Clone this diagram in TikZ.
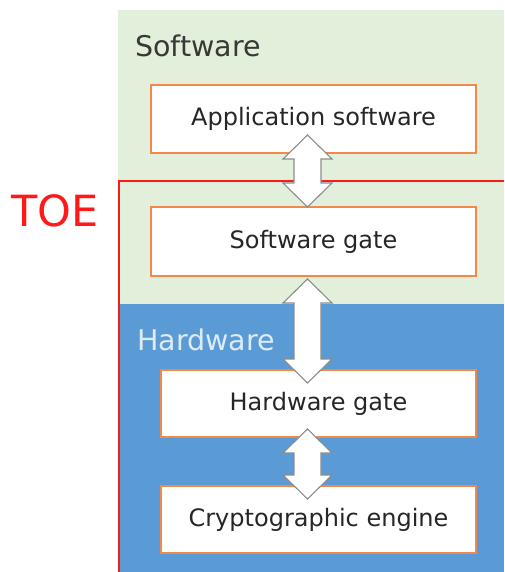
\documentclass[tikz,border=0pt]{standalone}
\usepackage{fontspec}
\setmainfont{DejaVu Sans}
\usetikzlibrary{calc}
\definecolor{swgreen}{HTML}{E2EFDA}
\definecolor{hwblue}{HTML}{5B9BD5}
\definecolor{boxorange}{HTML}{F0894A}
\definecolor{arrowgray}{HTML}{8C8C8C}
\definecolor{toered}{HTML}{FF1A1A}
\definecolor{txt}{HTML}{262626}
\definecolor{hwtext}{HTML}{DDEBF7}
\newcommand{\dblblockarrow}[2]{%
  \filldraw[blockarrow] (#1) -- ($(#1)+(24.5,24)$) -- ($(#1)+(13.5,24)$)
    -- ($(#2)+(13.5,-24)$) -- ($(#2)+(24.5,-24)$) -- (#2)
    -- ($(#2)+(-24.5,-24)$) -- ($(#2)+(-13.5,-24)$)
    -- ($(#1)+(-13.5,24)$) -- ($(#1)+(-24.5,24)$) -- cycle;}
\begin{document}
\begin{tikzpicture}[x=1pt,y=-1pt,
  layerbox/.style={draw=boxorange, line width=1.6pt, fill=white, text=txt,
    inner sep=0pt, font=\fontsize{24}{28}\selectfont},
  blockarrow/.style={draw=arrowgray, line width=1.1pt, fill=white, line join=miter},
  layerlabel/.style={anchor=base west, inner sep=0pt, font=\fontsize{28.5}{32}\selectfont}]
\useasboundingbox (0,0) rectangle (504,572);
% backgrounds
\fill[swgreen] (118,10) rectangle (504,304);
\fill[hwblue] (118,304) rectangle (504,572);
% TOE boundary
\draw[toered, line width=1.6pt] (504,181) -- (119,181) -- (119,572);
\node[text=toered, font=\fontsize{43}{48}\selectfont, inner sep=0pt] (toe) at (55,211) {TOE};
% labels
\node[layerlabel, text=black!78] (sw) at (135,56.5) {Software};
\node[layerlabel, text=hwtext] (hw) at (137,350) {Hardware};
% boxes
\node[layerbox, minimum width=325pt, minimum height=68pt] (app) at (313.5,119) {Application software};
\node[layerbox, minimum width=325pt, minimum height=69pt] (swg) at (313.5,241.5) {Software gate};
\node[layerbox, minimum width=315pt, minimum height=67pt] (hwg) at (318.5,403.5) {Hardware gate};
\node[layerbox, minimum width=315pt, minimum height=67pt] (eng) at (318.5,519.5) {Cryptographic engine};
% arrows
\coordinate (a1t) at (307.5,135);
\coordinate (a1b) at (307.5,207);
\coordinate (a2t) at (307.5,279);
\coordinate (a2b) at (307.5,383);
\coordinate (a3t) at (307.5,429);
\coordinate (a3b) at (307.5,499);
\dblblockarrow{a1t}{a1b}
\dblblockarrow{a2t}{a2b}
\dblblockarrow{a3t}{a3b}
\end{tikzpicture}
\end{document}
